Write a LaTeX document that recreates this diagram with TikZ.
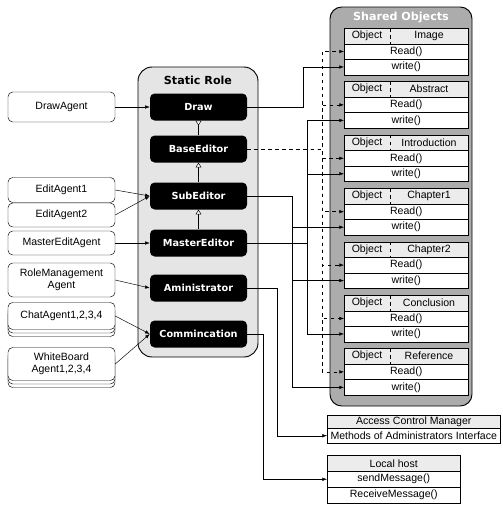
\documentclass[tikz,border=0pt]{standalone}
\usepackage{fontspec}
\setmainfont{Liberation Sans}
\newfontfamily\rolefont{DejaVu Sans}
\usetikzlibrary{arrows.meta}

\def\PX{0.03cm}

\tikzset{
  agent/.style={draw,fill=white,rounded corners=4pt,minimum width=107*\PX,inner sep=1pt,
    align=center,font=\fontsize{9}{10}\selectfont},
  role/.style={fill=black,rounded corners=4pt,minimum width=97*\PX,minimum height=27*\PX,
    text=white,font=\rolefont\bfseries\fontsize{8.3}{10}\selectfont},
  cell/.style={draw,fill=white,anchor=north west,inner sep=0pt,font=\fontsize{9}{10}\selectfont},
  row/.style={cell,minimum width=124*\PX,minimum height=15.5*\PX},
  conn/.style={-{Latex[length=4pt,width=3pt]}},
  inherit/.style={{Triangle[fill=white,length=4pt,width=5pt]}-},
}

\begin{document}
\begin{tikzpicture}[x=0.03cm,y=-0.03cm]
\useasboundingbox (0,0) rectangle (502,505);

\draw[thick,fill=gray!20,rounded corners=12pt] (138,67) rectangle (258,357);
\node[font=\rolefont\bfseries\fontsize{9.5}{10}\selectfont] (roletitle) at (198,80) {Static Role};

\foreach \name/\y in {Draw/107,BaseEditor/149,SubEditor/196,MasterEditor/243,Aministrator/288,Commincation/334}
  \node[role] (\name) at (198.5,\y) {\name};

\draw[{Triangle[fill=white,length=4pt,width=5pt,reversed]}-] (Draw) -- (BaseEditor);
\draw[inherit] (BaseEditor) -- (SubEditor);
\draw[inherit] (SubEditor) -- (MasterEditor);

\node[agent,minimum height=30*\PX] (DrawAgent) at (61.5,107) {DrawAgent};
\node[agent,minimum height=25*\PX] (EditAgent1) at (61.5,190) {EditAgent1};
\node[agent,minimum height=24*\PX] (EditAgent2) at (61.5,215) {EditAgent2};
\node[agent,minimum height=24*\PX] (MasterEditAgent) at (61.5,243) {MasterEditAgent};
\node[agent,minimum height=34*\PX] (RoleAgent) at (61.5,280) {RoleManagement\\Agent};
\foreach \d [count=\k] in {7,3.5}
  \node[agent,minimum height=27*\PX] (ChatAgent-\k) at (61.5,316+\d) {};
\node[agent,minimum height=27*\PX] (ChatAgent) at (61.5,316) {ChatAgent1,2,3,4};
\foreach \d [count=\k] in {7,3.5}
  \node[agent,minimum height=33*\PX] (BoardAgent-\k) at (61.5,364+\d) {};
\node[agent,minimum height=33*\PX] (BoardAgent) at (61.5,364) {WhiteBoard\\Agent1,2,3,4};

\draw[conn] (DrawAgent) -- (Draw);
\draw[conn] (EditAgent1.east) -- (SubEditor.west);
\draw[conn] (EditAgent2.east) -- (SubEditor.west);
\draw[conn] (MasterEditAgent) -- (MasterEditor);
\draw[conn] (RoleAgent.east) -- (Aministrator.west);
\draw[conn] (ChatAgent.east) -- (Commincation.west);
\draw[conn] (BoardAgent.east) -- (Commincation.west);

\draw[thick,fill=gray!65,rounded corners=10pt] (330,7) rectangle (472,406);
\node[text=white,font=\rolefont\bfseries\fontsize{9.5}{10}\selectfont] (objtitle) at (401,17) {Shared Objects};

\foreach \obj [count=\i from 0] in {Image,Abstract,Introduction,Chapter1,Chapter2,Conclusion,Reference} {
  \pgfmathsetmacro\oy{28+53.4*\i}
  \node[row,fill=gray!15] (h\i) at (344,\oy) {};
  \node[font=\fontsize{9}{10}\selectfont] (o\i) at (367,\oy+7.75) {Object};
  \node[font=\fontsize{9}{10}\selectfont] (n\i) at (429,\oy+7.75) {\obj};
  \draw[dashed] (390,\oy) -- (390,\oy+15.5);
  \node[row] (r\i) at (344,\oy+15.5) {Read()};
  \node[row] (w\i) at (344,\oy+31) {write()};
}

\node[cell,fill=gray!15,minimum width=173*\PX,minimum height=13*\PX] (acmHead) at (327,415) {Access Control Manager};
\node[cell,minimum width=173*\PX,minimum height=15*\PX] (acmMethods) at (327,428) {Methods of Administrators Interface};

\node[cell,fill=gray!15,minimum width=133*\PX,minimum height=16*\PX] (hostHead) at (327,455) {Local host};
\node[cell,minimum width=133*\PX,minimum height=16*\PX] (hostSend) at (327,471) {sendMessage()};
\node[cell,minimum width=133*\PX,minimum height=16*\PX] (hostReceive) at (327,487) {ReceiveMessage()};

\draw[conn] (Draw.east) -- ++(56,0) |- (w0.west);
\foreach \k in {0,...,6} { \draw[conn,dashed] (BaseEditor.east) -- ++(75,0) |- (r\k.west); };
\foreach \k in {3,4,6} { \draw[conn] (SubEditor.east) -- ++(45,0) |- (w\k.west); };
\foreach \k in {1,2,5} { \draw[conn] (MasterEditor.east) -- ++(60,0) |- (w\k.west); };
\draw[conn] (Aministrator.east) -- ++(30,0) |- (acmMethods.west);
\draw[conn] (Commincation.east) -- ++(16,0) |- (hostSend.west);
\end{tikzpicture}
\end{document}
